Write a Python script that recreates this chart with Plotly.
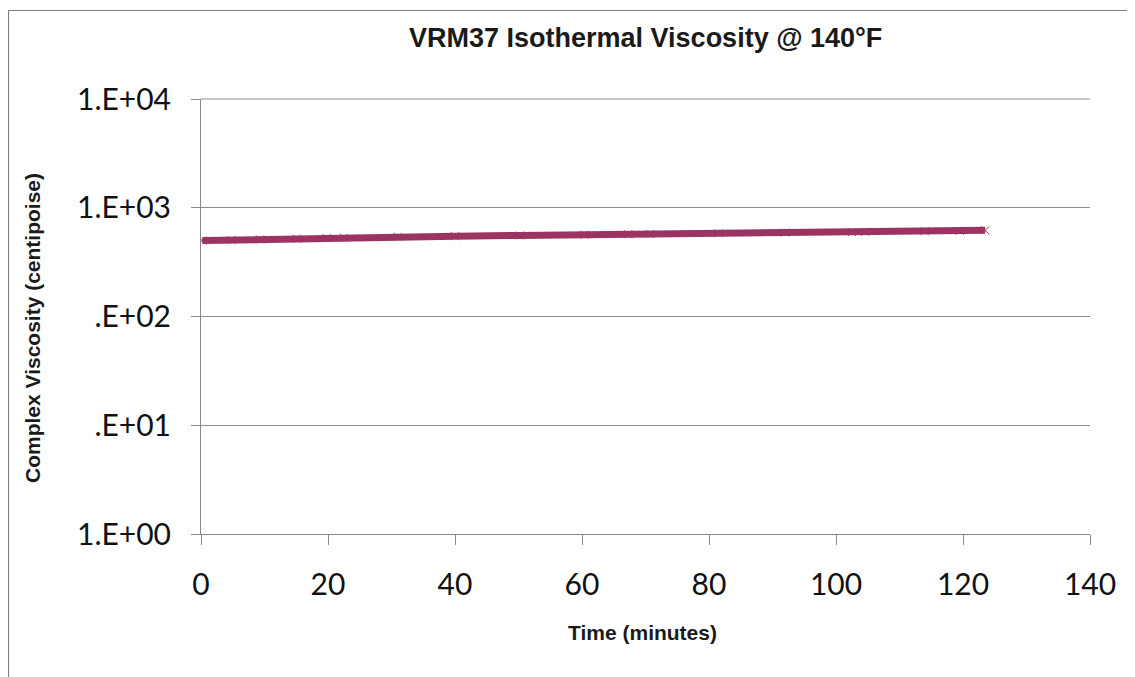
import plotly.graph_objects as go

# Data
time_min = [0.2, 4.8, 9.3, 15.1, 19.8, 22.5, 31.0, 40.0, 50.2, 60.4, 67.3, 70.7,
            81.5, 92.0, 102.5, 104.6, 114.0, 119.5, 123.5]
viscosity_cp = [499, 506, 512, 520, 526, 530, 540, 548, 556, 564, 570, 573,
                582, 590, 598, 600, 608, 613, 620]

y_tick_vals = [1, 10, 100, 1000, 10000]
y_tick_text = ["1.E+00", ".E+01", ".E+02", "1.E+03", "1.E+04"]
x_tick_vals = [0, 20, 40, 60, 80, 100, 120, 140]

title_text = "VRM37 Isothermal Viscosity @ 140°F"
x_title = "Time (minutes)"
y_title = "Complex Viscosity (centipoise)"

OFF = 8  # page body margin
W, H = 1135, 677
# plot area in page pixels: x 201..1090, y 99..534
L = 201 - OFF
T = 99 - OFF
R = W - (1090 - OFF)
B = H - (534 - OFF)
pw, ph = W - L - R, H - T - B

def px_x(p):
    return (p - OFF - L) / pw

def px_y(p):
    return (H - B - (p - OFF)) / ph

fig = go.Figure()
fig.add_trace(go.Scatter(
    x=time_min, y=viscosity_cp, mode="lines+markers",
    line=dict(color="#9B3363", width=7),
    marker=dict(symbol="x-thin", size=8, line=dict(color="#9B3363", width=1)),
    showlegend=False,
))

tick_font = dict(family="Lato, sans-serif", size=30, color="#111111")
fig.update_layout(
    width=W, height=H,
    margin=dict(l=L, r=R, t=T, b=B),
    paper_bgcolor="white", plot_bgcolor="white",
    xaxis=dict(
        range=[0, 140], tickvals=x_tick_vals, showgrid=False, zeroline=False,
        showline=True, linecolor="#888888", linewidth=1,
        ticks="outside", ticklen=10, tickcolor="#888888", tickwidth=1,
        tickfont=tick_font, ticklabelstandoff=14,
    ),
    yaxis=dict(
        type="log", range=[0, 4], tickvals=y_tick_vals, ticktext=y_tick_text,
        showgrid=True, gridcolor="#8c8c8c", gridwidth=1, zeroline=False,
        showline=True, linecolor="#888888", linewidth=1,
        ticks="outside", ticklen=9, tickcolor="#888888", tickwidth=1,
        tickfont=tick_font, ticklabelstandoff=14,
    ),
    shapes=[
        dict(type="rect", xref="paper", yref="paper",
             x0=px_x(8.5), x1=px_x(1150), y0=px_y(700), y1=px_y(10.5),
             line=dict(color="#808080", width=1.2), fillcolor="rgba(0,0,0,0)",
             layer="below"),
        dict(type="line", xref="paper", yref="paper",
             x0=0, x1=1, y0=1, y1=1, line=dict(color="#8c8c8c", width=1)),
    ],
    annotations=[
        dict(text=f"<b>{title_text}</b>", xref="paper", yref="paper",
             x=px_x(645.5), y=px_y(38), xanchor="center", yanchor="middle",
             showarrow=False,
             font=dict(family="Liberation Sans, Arial", size=27, color="#1a1a1a")),
        dict(text=f"<b>{x_title}</b>", xref="paper", yref="paper",
             x=px_x(642), y=px_y(632), xanchor="center", yanchor="middle",
             showarrow=False,
             font=dict(family="Liberation Sans, Arial", size=21, color="#1a1a1a")),
        dict(text=f"<b>{y_title}</b>", xref="paper", yref="paper",
             x=px_x(32), y=px_y(328), xanchor="center", yanchor="middle",
             showarrow=False, textangle=-90,
             font=dict(family="Liberation Sans, Arial", size=21, color="#1a1a1a")),
    ],
)

fig.write_html("out.html")
